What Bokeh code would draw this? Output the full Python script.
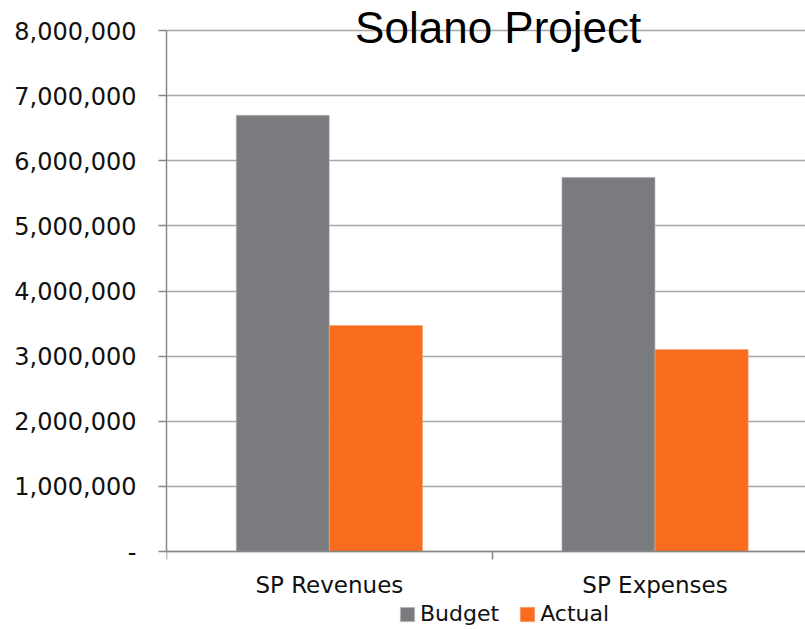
from bokeh.plotting import figure
from bokeh.models import FixedTicker, Label, Range1d, Legend
from bokeh.embed import file_html
from bokeh.resources import INLINE

# ---- data ----
categories = ["SP Revenues", "SP Expenses"]
series_names = ["Budget", "Actual"]
budget = [6700000, 5745000]
actual = [3470000, 3100000]
y_ticks = [0, 1000000, 2000000, 3000000, 4000000, 5000000, 6000000, 7000000, 8000000]
y_tick_labels = ["-", "1,000,000", "2,000,000", "3,000,000", "4,000,000",
                 "5,000,000", "6,000,000", "7,000,000", "8,000,000"]
title_text = "Solano Project"

GRAY = "#7a7b7f"
ORANGE = "#f96c1e"
AXIS = "#878787"
GRID = "#a6a6a6"
TXT = "#111111"

# Frame spans the full height so title/legend (drawn inside it) are not clipped;
# the value axis runs from 0 to 8,000,000 within it.
PX_PER_UNIT = 521 / y_ticks[-1]
y_lo = -78 / PX_PER_UNIT
y_hi = y_ticks[-1] + 30 / PX_PER_UNIT

p = figure(frame_width=639, frame_height=629, output_backend="svg", toolbar_location=None,
           x_range=Range1d(0, 1.962), y_range=Range1d(y_lo, y_hi),
           min_border_left=166, min_border_right=0, min_border_top=0, min_border_bottom=0)
p.outline_line_color = None
p.background_fill_color = "white"
p.border_fill_color = "white"

bw = 0.286
centers = [i + 0.5 for i in range(len(categories))]
xb = [c - bw / 2 for c in centers]
xa = [c + bw / 2 for c in centers]

rb = p.vbar(x=xb, top=budget, bottom=0, width=bw, fill_color=GRAY, line_color="#c8c8c8", line_width=0.6)
ra = p.vbar(x=xa, top=actual, bottom=0, width=bw, fill_color=ORANGE, line_color="#f6a070", line_width=0.6)

# grid
p.xgrid.grid_line_color = None
p.ygrid.ticker = FixedTicker(ticks=y_ticks)
p.ygrid.grid_line_color = GRID
p.ygrid.grid_line_width = 1.5

# axes
xa_ = p.xaxis[0]
xa_.fixed_location = 0
xa_.ticker = FixedTicker(ticks=centers, minor_ticks=list(range(len(categories) + 1)))
xa_.major_label_overrides = {c: name for c, name in zip(centers, categories)}
xa_.major_tick_line_color = None
xa_.major_tick_out = 0
xa_.major_tick_in = 0
xa_.minor_tick_out = 8
xa_.minor_tick_in = 0
xa_.minor_tick_line_color = AXIS
xa_.minor_tick_line_width = 1.5
xa_.axis_line_color = AXIS
xa_.axis_line_width = 1.5
xa_.major_label_text_font = "DejaVu Sans"
xa_.major_label_text_font_size = "23px"
xa_.major_label_text_color = TXT
xa_.major_label_standoff = 12

ya = p.yaxis[0]
ya.bounds = (y_ticks[0], y_ticks[-1])
ya.ticker = FixedTicker(ticks=y_ticks, minor_ticks=[])
ya.major_label_overrides = {t: l for t, l in zip(y_ticks, y_tick_labels)}
ya.major_tick_out = 8
ya.major_tick_in = 0
ya.major_tick_line_color = AXIS
ya.major_tick_line_width = 1.5
ya.minor_tick_line_color = None
ya.axis_line_color = AXIS
ya.axis_line_width = 1.5
ya.major_label_text_font = "DejaVu Sans"
ya.major_label_text_font_size = "24px"
ya.major_label_text_color = TXT
ya.major_label_standoff = 22

# legend
legend = Legend(items=[(series_names[0], [rb]), (series_names[1], [ra])],
                orientation="horizontal", location=(232, 3),
                padding=0, margin=0, spacing=19, label_standoff=4,
                glyph_width=18, glyph_height=18, label_height=22,
                label_text_font="DejaVu Sans", label_text_font_size="22px",
                label_text_color=TXT, border_line_color=None,
                background_fill_alpha=0)
p.add_layout(legend, "center")

# chart title drawn over the top of the plot area
title = Label(x=1.0, y=y_ticks[-1], x_offset=6, y_offset=3, text=title_text,
              text_align="center", text_baseline="alphabetic",
              text_font="Liberation Sans", text_font_size="44px", text_color="#000000")
p.add_layout(title)

open("out.html", "w").write(file_html(p, INLINE))
